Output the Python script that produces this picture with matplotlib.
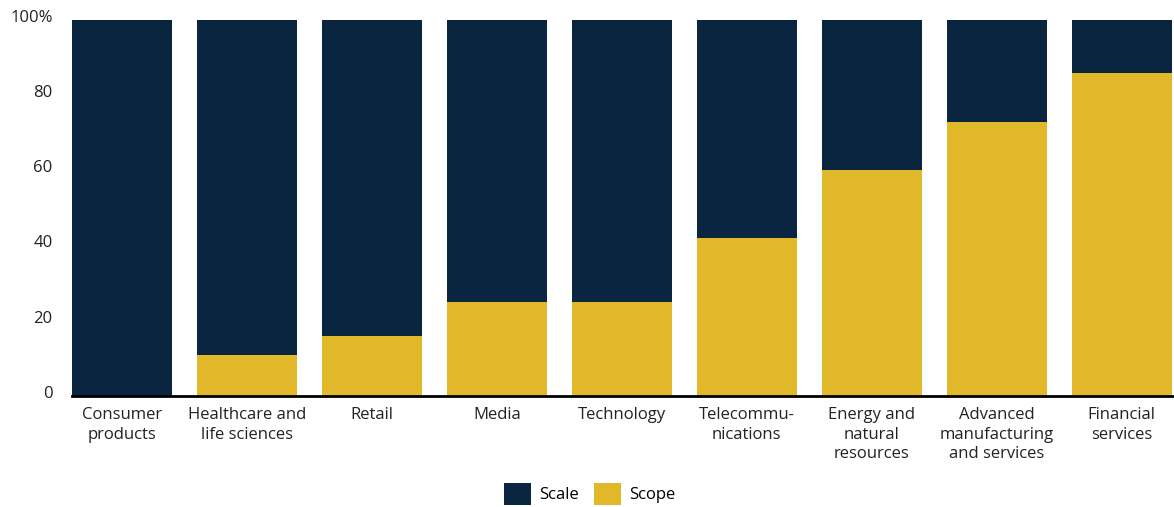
import numpy as np
import matplotlib.pyplot as plt
from matplotlib.transforms import ScaledTranslation

plt.rcParams['font.family'] = ['Open Sans', 'DejaVu Sans']

categories = ['Consumer\nproducts', 'Healthcare and\nlife sciences', 'Retail', 'Media',
              'Technology', 'Telecommu-\nnications', 'Energy and\nnatural\nresources',
              'Advanced\nmanufacturing\nand services', 'Financial\nservices']
scope = [0, 11, 16, 25, 25, 42, 60, 73, 86]
scale = [100 - v for v in scope]
y_ticks = [0, 20, 40, 60, 80, 100]
y_labels = ['0', '20', '40', '60', '80', '100%']

navy = '#0a2540'
gold = '#e0b82a'

fig = plt.figure(figsize=(11.74, 5.07), dpi=100)
ax = fig.add_axes([72 / 1174, 111 / 507, 1 - 72 / 1174, 376 / 507])

x = np.arange(len(categories))
ax.bar(x, scope, width=0.8, color=gold, label='Scope')
ax.bar(x, scale, width=0.8, bottom=scope, color=navy, label='Scale')

ax.set_xlim(-0.4, 8.42)
ax.set_ylim(0, 100)
ax.set_xticks(x)
ax.set_xticklabels(categories, fontsize=12, color='#222222', linespacing=1.3, va='top')
ax.set_yticks(y_ticks)
ax.set_yticklabels(y_labels, fontsize=12, color='#222222')
ax.tick_params(axis='both', length=0)
ax.tick_params(axis='x', pad=8)
ax.tick_params(axis='y', pad=14)

# nudge y labels up a little
shift = ScaledTranslation(0, 3 / 72, fig.dpi_scale_trans)
for lbl in ax.get_yticklabels():
    lbl.set_transform(lbl.get_transform() + shift)

for s in ['top', 'right', 'left']:
    ax.spines[s].set_visible(False)
ax.spines['bottom'].set_linewidth(2)
ax.spines['bottom'].set_color('black')

handles, labels = ax.get_legend_handles_labels()
fig.legend(handles[::-1], labels[::-1], loc='center', bbox_to_anchor=(590 / 1174, 13 / 507),
           ncol=2, frameon=False, fontsize=12, handlelength=1.6, handleheight=1.6,
           columnspacing=0.9, handletextpad=0.5)

fig.savefig('out.png', dpi=100)
